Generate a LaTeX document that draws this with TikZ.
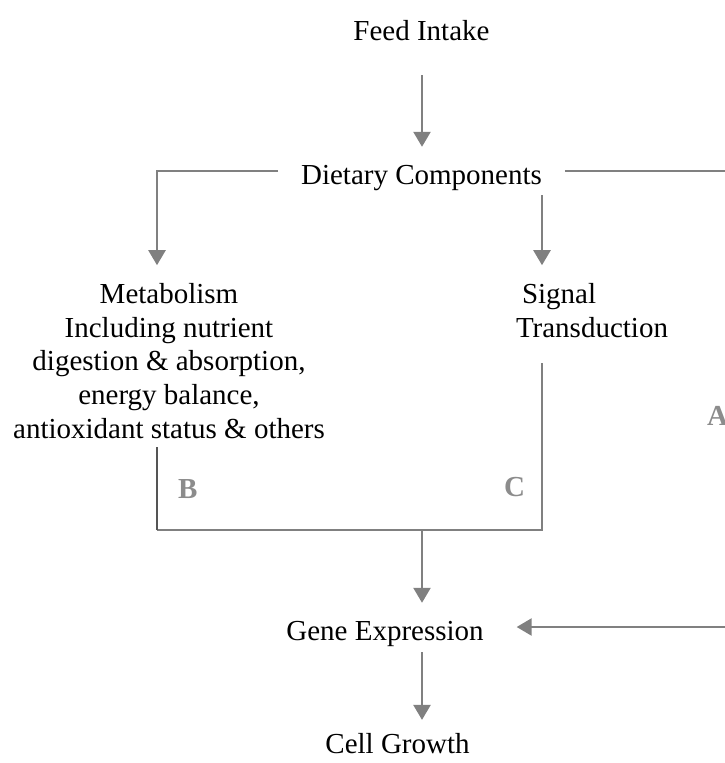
\documentclass[tikz,border=0pt]{standalone}
\usepackage{fontspec}
\setmainfont{Liberation Serif}
\usetikzlibrary{arrows.meta,calc}
\definecolor{linegray}{RGB}{128,128,128}
\definecolor{darkline}{RGB}{85,85,85}
\definecolor{labgray}{RGB}{140,140,140}
\tikzset{
  conn/.style={draw=linegray, line width=2.4pt},
  arr/.style={conn, -{Triangle[width=17pt,length=15pt]}},
  txt/.style={inner sep=0pt, outer sep=0pt, text=black},
  lab/.style={inner sep=0pt, outer sep=0pt, text=labgray, font=\fontsize{29}{33.75}\selectfont\bfseries}
}
\begin{document}
\begin{tikzpicture}[x=1pt,y=-1pt,font=\fontsize{29}{33.75}\selectfont]
\useasboundingbox (0,0) rectangle (724,763);
% nodes
\node[txt, anchor=base] (feed) at (421.5,40) {Feed Intake};
\node[txt, anchor=base] (diet) at (421.5,184) {Dietary Components};
\node[txt, anchor=north, align=center] (metab) at (169,283.2)
  {Metabolism\\Including nutrient\\digestion \& absorption,\\energy balance,\\antioxidant status \& others};
\node[txt, anchor=north west, align=left] (sig) at (516,283.2) {\hspace*{6pt}Signal\\Transduction};
\node[txt, anchor=base] (gene) at (385,640) {Gene Expression};
\node[txt, anchor=base] (cell) at (397.5,753) {Cell Growth};
\node[lab, anchor=base west] (lB) at (178,498) {B};
\node[lab, anchor=base west] (lC) at (504,496) {C};
\node[lab, anchor=base west] (lA) at (707,425) {A};
% helper coordinates
\coordinate (xL) at (157,0);
\coordinate (xS) at (542,0);
\coordinate (xM) at (422,0);
\coordinate (xR) at (731,0);
\coordinate (jB) at (157,530);
\coordinate (jC) at (542,530);
\coordinate (jM) at (422,530);
\coordinate (gE) at ($(gene.base east)+(33,-13)$);
% connectors
\draw[arr, shorten <=35pt, shorten >=18pt] (feed.south -| xM) -- (diet.north -| xM);
\draw[arr, shorten >=18pt] ($(diet.base west)+(-23,-13)$) -| (metab.north -| xL);
\draw[arr, shorten <=5pt, shorten >=18pt] (diet.south -| xS) -- (sig.north -| xS);
\draw[conn] ($(sig.south -| xS)+(0,26)$) -- (jC) -- (jB);
\draw[draw=darkline, line width=1.8pt] (jB) -- ($(metab.south -| xL)+(0,8)$);
\draw[arr, shorten >=18pt] (jM) -- (gene.north -| xM);
\draw[arr, shorten <=6pt, shorten >=13pt] (gene.south -| xM) -- (cell.north -| xM);
\draw[arr] ($(diet.base east)+(23,-13)$) -| (xR |- gE) -- (gE);
\end{tikzpicture}
\end{document}
